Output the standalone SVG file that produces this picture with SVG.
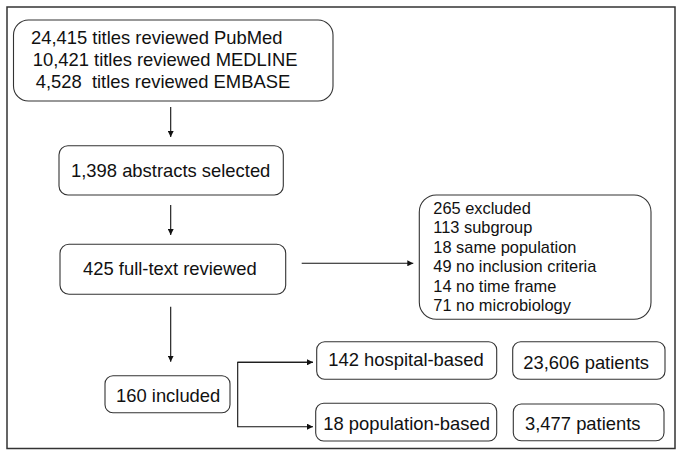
<svg xmlns="http://www.w3.org/2000/svg" width="683" height="458" viewBox="0 0 683 458">
<style>
.box{fill:#fff;stroke:#333;stroke-width:1.1}
.t{font-family:"Liberation Sans",Arial,sans-serif;font-size:18.4px;fill:#111;white-space:pre}
.s{font-family:"Liberation Sans",Arial,sans-serif;font-size:16.4px;fill:#111}
.c{fill:none;stroke:#111;stroke-width:1.1}
</style>
<defs>
<marker id="ah" viewBox="0 0 10 10" refX="10" refY="5" markerWidth="6" markerHeight="6" markerUnits="userSpaceOnUse" orient="auto">
<path d="M0,0 L10,5 L0,10 Z" fill="#111"/>
</marker>
</defs>
<rect x="0" y="0" width="683" height="458" fill="#fff"/>
<rect x="7" y="7" width="668" height="441.5" fill="none" stroke="#333" stroke-width="1.5"/>
<g id="connectors">
<line class="c" x1="170.7" y1="107" x2="170.7" y2="137" marker-end="url(#ah)"/>
<line class="c" x1="170.7" y1="205" x2="170.7" y2="235" marker-end="url(#ah)"/>
<line class="c" x1="170.7" y1="306.7" x2="170.7" y2="361.7" marker-end="url(#ah)"/>
<line class="c" x1="301.7" y1="263.3" x2="413.3" y2="263.3" marker-end="url(#ah)"/>
<polyline class="c" points="313,362.3 237.7,362.3 237.7,426.7 313,426.7" marker-end="url(#ah)"/>
<line class="c" x1="237.7" y1="362.3" x2="313" y2="362.3" marker-end="url(#ah)"/>
</g>
<g id="n-titles">
<rect class="box" x="13.5" y="20" width="319.5" height="81" rx="15"/>
<text class="t" x="31" y="44">24,415 titles reviewed PubMed</text>
<text class="t" x="32.7" y="65.5">10,421 titles reviewed MEDLINE</text>
<text class="t" x="35.7" y="87.7" xml:space="preserve">4,528  titles reviewed EMBASE</text>
</g>
<g id="n-abstracts">
<rect class="box" x="59" y="145.7" width="224.3" height="49.3" rx="9"/>
<text class="t" x="71" y="176.7">1,398 abstracts selected</text>
</g>
<g id="n-fulltext">
<rect class="box" x="60" y="244.3" width="225.7" height="50" rx="9"/>
<text class="t" x="83" y="275">425 full-text reviewed</text>
</g>
<g id="n-excluded">
<rect class="box" x="419.3" y="195" width="231.7" height="124.3" rx="17"/>
<text class="s" x="433.3" y="214">265 excluded</text>
<text class="s" x="433.3" y="233.3">113 subgroup</text>
<text class="s" x="433.3" y="252.7">18 same population</text>
<text class="s" x="433.3" y="272.3">49 no inclusion criteria</text>
<text class="s" x="433.3" y="291.7">14 no time frame</text>
<text class="s" x="433.3" y="311">71 no microbiology</text>
</g>
<g id="n-included">
<rect class="box" x="105" y="375.7" width="125" height="37" rx="8"/>
<text class="t" x="116" y="401.7">160 included</text>
</g>
<g id="n-hospital">
<rect class="box" x="316.7" y="341.7" width="180" height="37.6" rx="8"/>
<text class="t" x="328.3" y="366">142 hospital-based</text>
</g>
<g id="n-population">
<rect class="box" x="315.7" y="403.3" width="181" height="37.7" rx="8"/>
<text class="t" x="323.3" y="430">18 population-based</text>
</g>
<g id="n-hosp-patients">
<rect class="box" x="512.7" y="341.7" width="152.3" height="37.6" rx="8"/>
<text class="t" x="523.3" y="369.3">23,606 patients</text>
</g>
<g id="n-pop-patients">
<rect class="box" x="513.3" y="404" width="150.7" height="36.7" rx="8"/>
<text class="t" x="525" y="430">3,477 patients</text>
</g>
</svg>
